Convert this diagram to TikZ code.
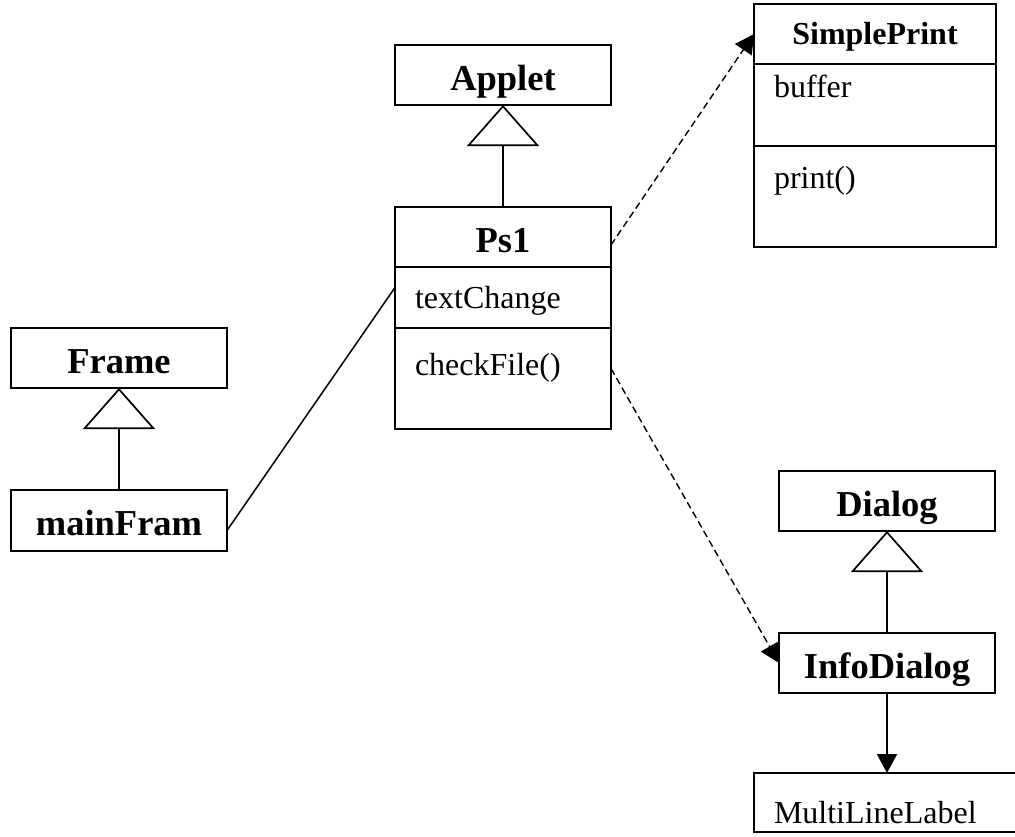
\documentclass[tikz,border=0pt]{standalone}
\usepackage{fontspec}
\setmainfont{Liberation Serif}
\usetikzlibrary{positioning,arrows.meta}

\tikzset{
    classname/.style={draw, line width=1.7pt, outer sep=0pt, inner xsep=0pt, inner ysep=0pt,
        minimum width=216pt, text height=45pt, text depth=15pt,
        font=\fontsize{36.5}{40}\selectfont\bfseries},
    member/.style={draw, line width=1.7pt, outer sep=0pt, inner xsep=20pt, inner ysep=0pt,
        align=left, text width=176pt, font=\fontsize{32}{36}\selectfont},
    gen/.style={line width=1.7pt, -{Triangle[open, length=41pt, width=72pt]}},
    assoc/.style={line width=1.5pt},
    dep/.style={line width=1.4pt, dash pattern=on 7pt off 4pt, -{Triangle[length=19pt, width=20pt]}},
    nav/.style={line width=1.7pt, -{Triangle[length=19pt, width=20pt]}}
}

\begin{document}
\begin{tikzpicture}[x=1pt, y=-1pt]
    \useasboundingbox (0, 0) rectangle (1015, 836);

    \node[classname, anchor=north west] (applet) at (395, 45) {Applet};
    \node[classname, anchor=north west] (ps1) at (395, 207) {Ps1};
    \node[member, text height=41pt, text depth=20pt, below=0pt of ps1] (ps1attr) {textChange};
    \node[member, text height=47pt, text depth=54pt, below=0pt of ps1attr] (ps1ops) {checkFile()};

    \node[classname, anchor=north west, minimum width=242pt, text height=40pt, text depth=20pt,
        font=\fontsize{32}{36}\selectfont\bfseries] (simpleprint) at (754, 4) {SimplePrint};
    \node[member, text width=202pt, text height=33pt, text depth=49pt, below=0pt of simpleprint] (spattr) {buffer};
    \node[member, text width=202pt, text height=42pt, text depth=59pt, below=0pt of spattr] (spops) {print()};

    \node[classname, anchor=north west] (frame) at (11, 328) {Frame};
    \node[classname, anchor=north west, text depth=16pt] (mainfram) at (11, 490) {mainFram};

    \node[classname, anchor=north west] (dialog) at (779, 471) {Dialog};
    \node[classname, anchor=north west] (infodialog) at (779, 633) {InfoDialog};
    \node[member, anchor=north west, text width=223pt, text height=50pt, text depth=9pt] (multiline) at (754, 773) {MultiLineLabel};

    \draw[gen] (ps1.north) -- (applet.south);
    \draw[gen] (mainfram.north) -- (frame.south);
    \draw[gen] (infodialog.north) -- (dialog.south);
    \draw[assoc] ([yshift=-10pt]mainfram.east) -- ([yshift=10pt]ps1attr.west);
    \draw[dep] ([yshift=-8pt]ps1.east) -- (simpleprint.west);
    \draw[dep] ([yshift=10pt]ps1ops.east) -- (infodialog.west);
    \draw[nav] (infodialog.south) -- (infodialog.south |- multiline.north);
\end{tikzpicture}
\end{document}
